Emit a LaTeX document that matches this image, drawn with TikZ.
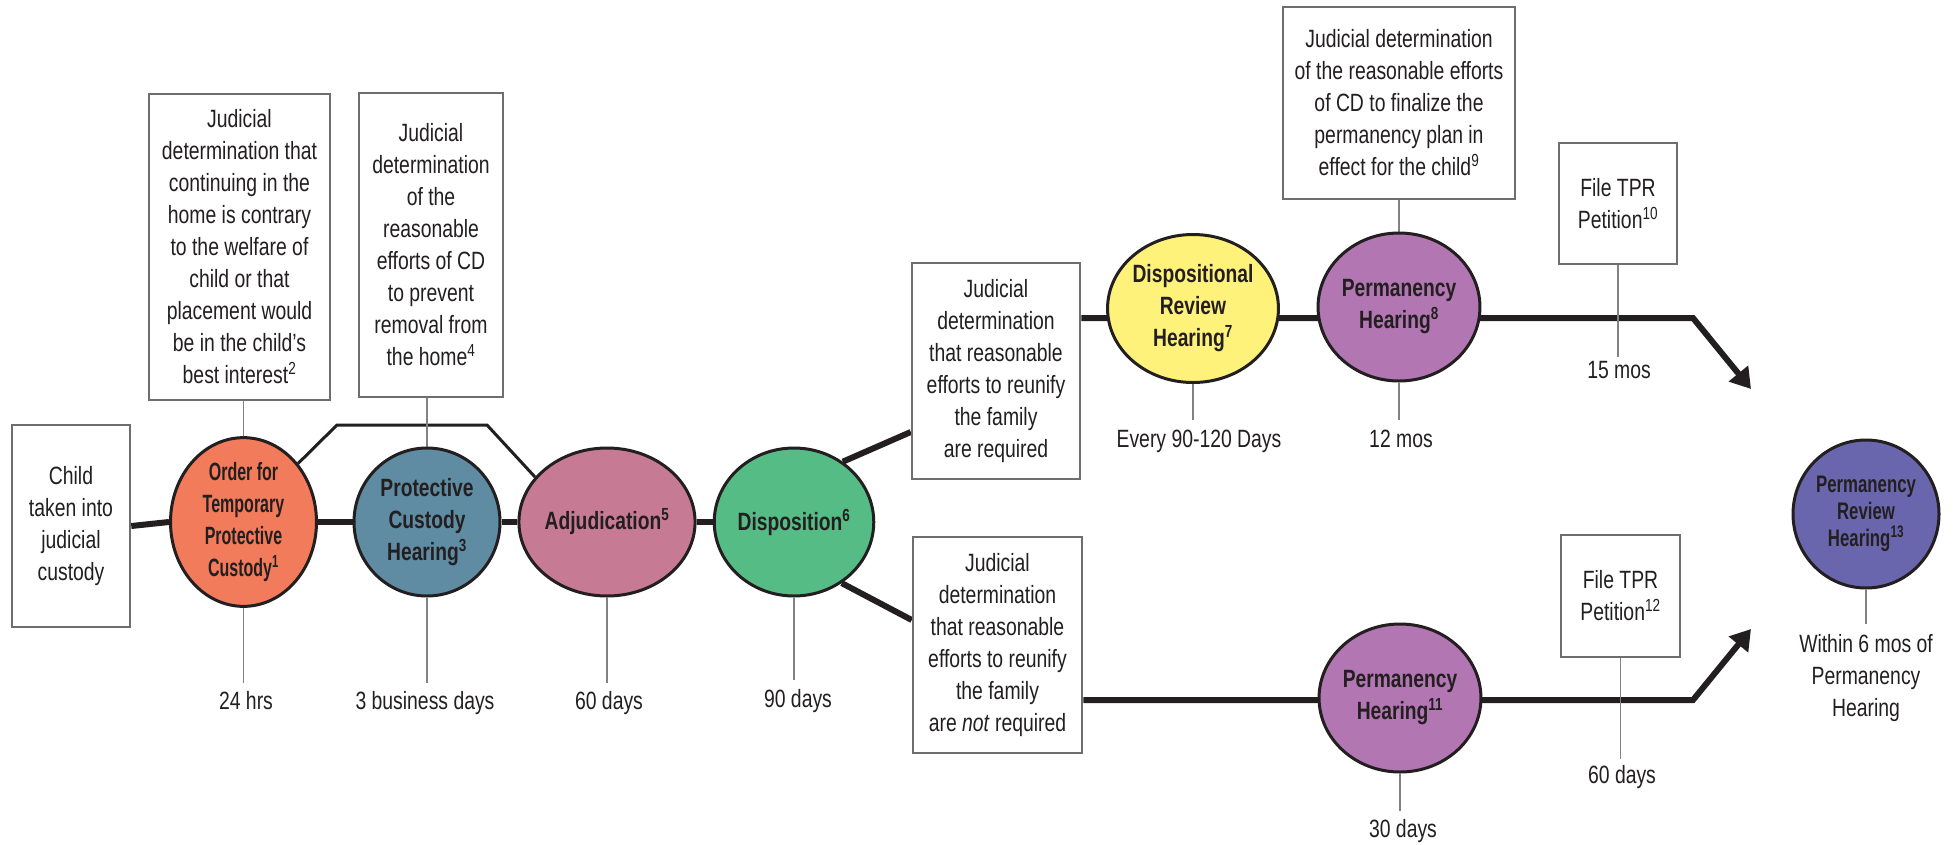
\documentclass[tikz,border=0pt]{standalone}
\usepackage{fontspec}
\setmainfont{Liberation Sans}[FakeStretch=0.775]
\newfontfamily\circfont{Liberation Sans}[FakeStretch=0.77]
\newfontfamily\ordfont{Liberation Sans}[FakeStretch=0.64]
\newfontfamily\prhfont{Liberation Sans}[FakeStretch=0.70]
\usetikzlibrary{arrows.meta,shapes.geometric,backgrounds}
\definecolor{ink}{HTML}{231F20}
\definecolor{boxgray}{HTML}{6D6E71}
\definecolor{tickgray}{HTML}{808285}
\definecolor{cOrder}{HTML}{F27B5B}
\definecolor{cPCH}{HTML}{5F8CA3}
\definecolor{cAdj}{HTML}{C77A94}
\definecolor{cDisp}{HTML}{55BC85}
\definecolor{cDRH}{HTML}{FFF27B}
\definecolor{cPH}{HTML}{B276B2}
\definecolor{cPRH}{HTML}{6A66AD}
\tikzset{
  x=1pt, y=-1pt,
  every node/.style={text=ink, inner sep=0pt},
  txt/.style={font=\fontsize{25}{32}\selectfont},
  box/.style={txt, draw=boxgray, line width=2.5pt, fill=white, align=center},
  stage/.style={ellipse, draw=ink, line width=3pt, minimum width=146pt, minimum height=148pt,
    align=center, font=\circfont\bfseries\fontsize{25}{32}\selectfont},
  lab/.style={txt, anchor=base},
  mainline/.style={draw=ink, line width=6pt},
  bypass/.style={draw=ink, line width=3pt},
  tick/.style={draw=tickgray, line width=1.5pt},
  arrowline/.style={mainline, line join=miter, -{Triangle[length=20pt,width=24pt]}},
}
\begin{document}
\begin{tikzpicture}
\path[use as bounding box] (0,0) rectangle (1954,844);

% boxes
\node[box, minimum width=118pt, minimum height=202pt] (child) at (71,526)
  {Child\\taken into\\judicial\\custody};
\node[box, minimum width=181pt, minimum height=306pt] (jd1) at (239.5,247)
  {Judicial\\determination that\\continuing in the\\home is contrary\\to the welfare of\\child or that\\placement would\\be in the child’s\\best interest\textsuperscript{2}};
\node[box, minimum width=144pt, minimum height=304pt] (jd2) at (431,245)
  {Judicial\\determination\\of the\\reasonable\\efforts of CD\\to prevent\\removal from\\the home\textsuperscript{4}};
\node[box, minimum width=168pt, minimum height=216pt] (req) at (996,371)
  {Judicial\\determination\\that reasonable\\efforts to reunify\\the family\\are required};
\node[box, minimum width=169pt, minimum height=216pt] (notreq) at (997.5,645)
  {Judicial\\determination\\that reasonable\\efforts to reunify\\the family\\are \textit{not} required};
\node[box, minimum width=232pt, minimum height=192pt] (jd9) at (1399,103)
  {Judicial determination\\of the reasonable efforts\\of CD to finalize the\\permanency plan in\\effect for the child\textsuperscript{9}};
\node[box, minimum width=118pt, minimum height=121pt] (tpr10) at (1618,203.5)
  {File TPR\\Petition\textsuperscript{10}};
\node[box, minimum width=119pt, minimum height=122pt] (tpr12) at (1620.5,596)
  {File TPR\\Petition\textsuperscript{12}};

% stages
\node[stage, fill=cOrder, font=\ordfont\bfseries\fontsize{25}{32}\selectfont] (order) at (243.5,522)
  {Order for\\Temporary\\Protective\\Custody\textsuperscript{1}};
\node[stage, fill=cPCH] (pch) at (427,522) {Protective\\Custody\\Hearing\textsuperscript{3}};
\node[stage, fill=cAdj] (adj) at (607,522) {Adjudication\textsuperscript{5}};
\node[stage, fill=cDisp] (disp) at (794,522) {Disposition\textsuperscript{6}};
\node[stage, fill=cDRH] (drh) at (1193,308.5) {Dispositional\\Review\\Hearing\textsuperscript{7}};
\node[stage, fill=cPH] (ph8) at (1399,307) {Permanency\\Hearing\textsuperscript{8}};
\node[stage, fill=cPH] (ph11) at (1400,698) {Permanency\\Hearing\textsuperscript{11}};
\node[stage, fill=cPRH, font=\prhfont\bfseries\fontsize{24}{27}\selectfont] (prh) at (1866,514)
  {Permanency\\Review\\Hearing\textsuperscript{13}};

% time labels
\node[lab] (l1) at (246,709) {24 hrs};
\node[lab] (l2) at (425,709) {3 business days};
\node[lab] (l3) at (609,709) {60 days};
\node[lab] (l4) at (798,707) {90 days};
\node[lab] (l5) at (1199,447) {Every 90-120 Days};
\node[lab] (l6) at (1401,447) {12 mos};
\node[lab] (l7) at (1619,378) {15 mos};
\node[lab] (l8) at (1403,837) {30 days};
\node[lab] (l9) at (1622,783) {60 days};
\node[txt, anchor=north, align=center] (l10) at (1866,634) {Within 6 mos of\\Permanency\\Hearing};

% helper points
\coordinate (bpA) at (337,425);
\coordinate (bpB) at (487,425);
\coordinate (rqin) at (913,432);
\coordinate (nrin) at (913,620);
\coordinate (ubend) at (1693,318);
\coordinate (utip) at (1751,389);
\coordinate (lbend) at (1693,700);
\coordinate (ltip) at (1751,629);

\begin{scope}[on background layer]
  % main line
  \draw[mainline] (child.east) -- (order.west);
  \draw[mainline] (order.east) -- (pch.west);
  \draw[mainline] (pch.east) -- (adj.west);
  \draw[mainline] (adj.east) -- (disp.west);
  % branches
  \draw[mainline] (disp.51) -- (req.west |- rqin);
  \draw[mainline] (disp.-52) -- (notreq.west |- nrin);
  % upper and lower tracks
  \draw[arrowline] (req.east |- ubend) -- (ubend) -- (utip);
  \draw[arrowline] (notreq.east |- lbend) -- (lbend) -- (ltip);
  % bypass
  \draw[bypass, line join=miter] (order.47) -- (bpA) -- (bpB) -- (adj.148);
  % connectors from boxes
  \draw[tick] (jd1.south -| order.north) -- (order.north);
  \draw[tick] (jd2.south -| pch.north) -- (pch.north);
  \draw[tick] (jd9.south) -- (ph8.north);
\end{scope}

% ticks to labels
\draw[tick] (order.south) -- ([yshift=8pt]order.south |- l1.north);
\draw[tick] (pch.south) -- ([yshift=8pt]pch.south |- l2.north);
\draw[tick] (adj.south) -- ([yshift=8pt]adj.south |- l3.north);
\draw[tick] (disp.south) -- ([yshift=9pt]disp.south |- l4.north);
\draw[tick] (drh.south) -- ([yshift=9pt]drh.south |- l5.north);
\draw[tick] (ph8.south) -- ([yshift=9pt]ph8.south |- l6.north);
\draw[tick] (tpr10.south) -- ([yshift=4pt]tpr10.south |- l7.north);
\draw[tick] (ph11.south) -- ([yshift=8pt]ph11.south |- l8.north);
\draw[tick] (tpr12.south) -- ([yshift=6pt]tpr12.south |- l9.north);
\draw[tick] (prh.south) -- ([yshift=10pt]prh.south |- l10.north);
\end{tikzpicture}
\end{document}
